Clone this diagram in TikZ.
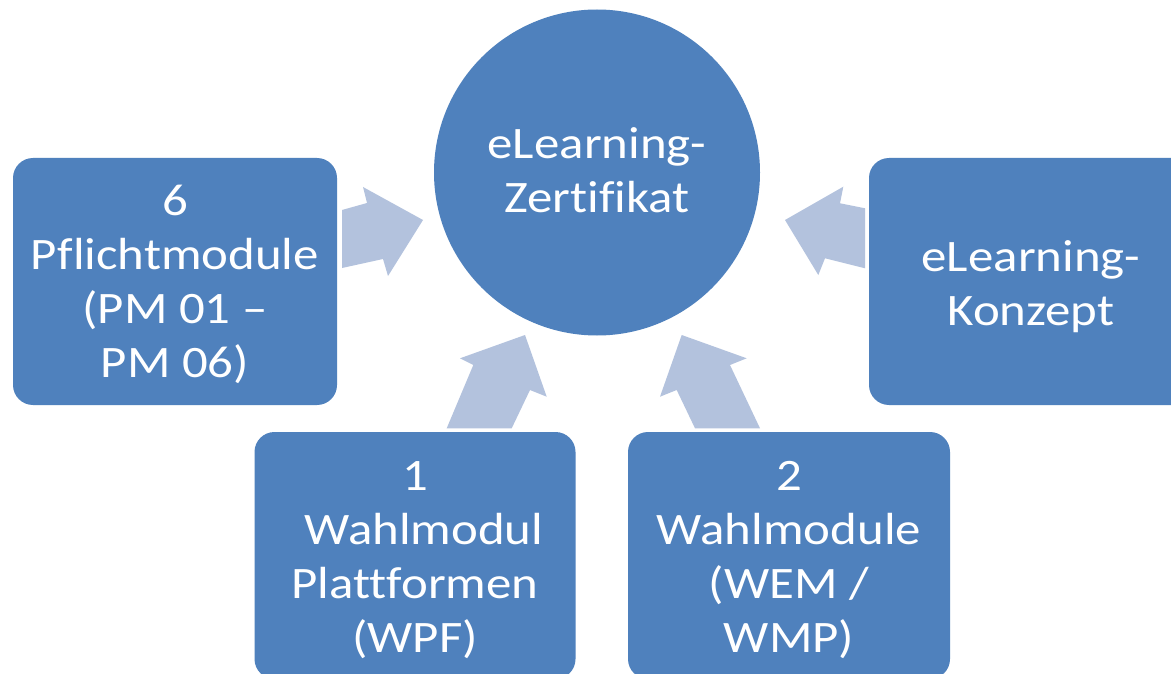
\documentclass[tikz,border=0pt]{standalone}
\usepackage{fontspec}
\setmainfont{Carlito}[FakeStretch=1.13, Ligatures=NoCommon]
\definecolor{boxblue}{HTML}{4F81BD}
\definecolor{arrowblue}{HTML}{B3C2DD}
\begin{document}
\begin{tikzpicture}[x=1pt,y=-1pt,
  box/.style={fill=boxblue, rounded corners=20pt, minimum width=324pt, minimum height=247pt, inner sep=0pt},
  txt/.style={text=white, font=\fontsize{45}{54}\selectfont, align=center, inner sep=0pt},
  blockarrow/.style={fill=arrowblue}]
\useasboundingbox (0,0) rectangle (1171,674);
\fill[white] (0,0) rectangle (1171,674);
% block arrows
\fill[blockarrow] (342,210) -- (367,203) -- (363,187) -- (423,220) -- (388,276) -- (383,259) -- (342,268) -- cycle;
\fill[blockarrow] (446.7,428.3) -- (473.3,365) -- (460,358.3) -- (525,335) -- (546.7,396.7) -- (530,390) -- (511.7,428.3) -- cycle;
\fill[blockarrow] (695,428.3) -- (676.7,390) -- (660,396.7) -- (681.7,335) -- (746.7,358.3) -- (730,365) -- (760,428.3) -- cycle;
\fill[blockarrow] (865,208.3) -- (840,203.3) -- (843.3,186.7) -- (785,220) -- (818.3,275) -- (825,258.3) -- (865,268.3) -- cycle;
% shapes
\node[box] (pm) at (175,281.5) {};
\node[box] (kz) at (1031,281.5) {};
\node[box, minimum width=321pt] (wpf) at (415,555.5) {};
\node[box, minimum width=322pt] (wem) at (789,555.5) {};
\node[circle, fill=boxblue, minimum size=326pt, inner sep=0pt] (cert) at (597,172.5) {};
% texts
\node[txt] (certt) at ([yshift=2pt]cert.center) {eLearning-\\Zertifikat};
\node[txt] (pmt) at ([yshift=-3pt]pm.center) {6\\Pflichtmodule\\(PM 01 –\\PM 06)};
\node[txt] (kzt) at ([yshift=-5pt]kz.center) {eLearning-\\Konzept};
\node[txt] (wpft) at ([yshift=-5pt]wpf.center) {1\\\hspace*{18pt}Wahlmodul\\Plattformen\\(WPF)};
\node[txt] (wemt) at ([yshift=-5pt]wem.center) {2\\Wahlmodule\\(WEM /\\WMP)};
\end{tikzpicture}
\end{document}
